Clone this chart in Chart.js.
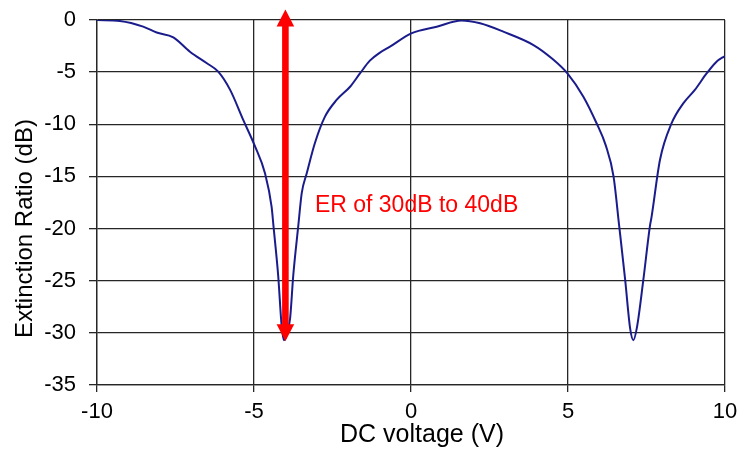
<!DOCTYPE html>
<html>
<head>
<meta charset="utf-8">
<script src="https://cdn.jsdelivr.net/npm/chart.js@4/dist/chart.umd.min.js"></script>
<style>
  body { margin: 0; background: #fff; }
</style>
</head>
<body>
<canvas id="extincion" width="740" height="452"></canvas>
<script>
// DATOS
const voltaje = [-10, -9.27, -8.53, -8.1, -7.57, -7.04, -6.5, -6.14, -5.76, -5.34, -4.97, -4.65, -4.44, -4.38, -4.23, -4.12, -4.05, -3.96, -3.85, -3.75, -3.59,
  -3.48, -3.32, -3.06, -2.74, -2.37, -1.94, -1.62, -1.31, -1.0, -0.67, 0.01, 0.82, 1.61, 2.2, 2.94, 3.9, 4.48, 5.0, 5.49, 5.91, 6.2, 6.45,
  6.63, 6.82, 6.98, 7.08, 7.2, 7.4, 7.61, 7.66, 7.93, 8.3, 8.67, 9.04, 9.42, 9.73, 10];
const extincion = [0, -0.1, -0.64, -1.2, -1.66, -3.04, -4.15, -4.95, -6.7, -9.6, -12.1, -14.7, -17.9, -19.75, -24.5, -29.3, -30.7, -30.2, -28.6, -24.5, -19.75,
  -16.6, -14.7, -11.8, -9.27, -7.67, -6.4, -5.1, -3.9, -3.15, -2.56, -1.28, -0.64, -0.05, -0.32, -1.12, -2.4, -3.67, -5.18, -7.35, -9.9, -12.0, -15.0,
  -19.75, -24.9, -29.6, -30.7, -29.4, -24.9, -19.75, -18.9, -13.4, -9.9, -8.0, -6.7, -5.1, -4.0, -3.45];
const ticksX = [-10, -5, 0, 5, 10];
const ticksY = [0, -5, -10, -15, -20, -25, -30, -35];
const flecha = { x: -4, desde: -30.8, hasta: 1.0 };
const etiqueta = { x: -3.06, y: -18.4, texto: "ER of 30dB to 40dB" };
const tituloX = "DC voltage (V)";
const tituloY = "Extinction Ratio (dB)";
// DATOS END

const fuente = '"Liberation Sans", Arial, sans-serif';
const gris = "#262626";
Chart.defaults.font.family = fuente;
Chart.defaults.color = "#000";

// FLECHA, TEXTO Y TITULOS
const anotaciones = {
  id: "anotaciones",
  afterDatasetsDraw(chart) {
    const { ctx, chartArea } = chart;
    const x = chart.scales.x, y = chart.scales.y;
    const px = x.getPixelForValue(flecha.x);
    const arriba = y.getPixelForValue(flecha.hasta);
    const abajo = y.getPixelForValue(flecha.desde);
    const cabeza = 17, ala = 8.8, cuerpo = 3.3;
    ctx.save();
    ctx.fillStyle = "#ff0000";
    ctx.fillRect(px - cuerpo, arriba + cabeza - 1, cuerpo * 2, abajo - arriba - 2 * cabeza + 2);
    ctx.beginPath();
    ctx.moveTo(px, arriba);
    ctx.lineTo(px + ala, arriba + cabeza);
    ctx.lineTo(px - ala, arriba + cabeza);
    ctx.closePath();
    ctx.fill();
    ctx.beginPath();
    ctx.moveTo(px, abajo);
    ctx.lineTo(px + ala, abajo - cabeza);
    ctx.lineTo(px - ala, abajo - cabeza);
    ctx.closePath();
    ctx.fill();

    ctx.font = "23px " + fuente;
    ctx.textAlign = "left";
    ctx.textBaseline = "alphabetic";
    ctx.fillText(etiqueta.texto, x.getPixelForValue(etiqueta.x), y.getPixelForValue(etiqueta.y));

    ctx.fillStyle = "#000";
    ctx.textAlign = "center";
    ctx.font = "25px " + fuente;
    ctx.fillText(tituloX, (chartArea.left + chartArea.right) / 2 + 11, 442);
    ctx.font = "24px " + fuente;
    ctx.translate(32, (chartArea.top + chartArea.bottom) / 2 + 26);
    ctx.rotate(-Math.PI / 2);
    ctx.fillText(tituloY, 0, 0);
    ctx.restore();
  }
};

const puntos = voltaje.map((v, i) => ({ x: v, y: extincion[i] }));

const config = {
  type: "line",
  data: {
    datasets: [{
      data: puntos,
      borderColor: "#1a1c8c",
      borderWidth: 2,
      pointRadius: 0,
      cubicInterpolationMode: "monotone",
      fill: false
    }]
  },
  options: {
    responsive: false,
    animation: false,
    layout: { padding: { top: 20, right: 15, left: 0, bottom: 0 } },
    plugins: { legend: { display: false }, tooltip: { enabled: false } },
    scales: {
      x: {
        type: "linear",
        min: -10,
        max: 10,
        afterBuildTicks: (s) => { s.ticks = ticksX.map(v => ({ value: v })); },
        afterFit: (s) => { s.height = 67; s.paddingLeft = 0; s.paddingRight = 0; },
        ticks: { font: { size: 22 }, padding: 7, maxRotation: 0 },
        grid: { color: gris, lineWidth: 1.3, tickLength: 7 },
        border: { display: true, color: gris, width: 1.3 }
      },
      y: {
        min: -35,
        max: 0,
        afterBuildTicks: (s) => { s.ticks = ticksY.map(v => ({ value: v })); },
        afterFit: (s) => { s.width = 97; s.paddingTop = 0; s.paddingBottom = 0; },
        ticks: { font: { size: 22 }, padding: 13 },
        grid: { color: gris, lineWidth: 1.3, tickLength: 8 },
        border: { display: true, color: gris, width: 1.3 }
      }
    }
  },
  plugins: [anotaciones]
};
new Chart(document.getElementById("extincion"), config);
</script>
</body>
</html>
